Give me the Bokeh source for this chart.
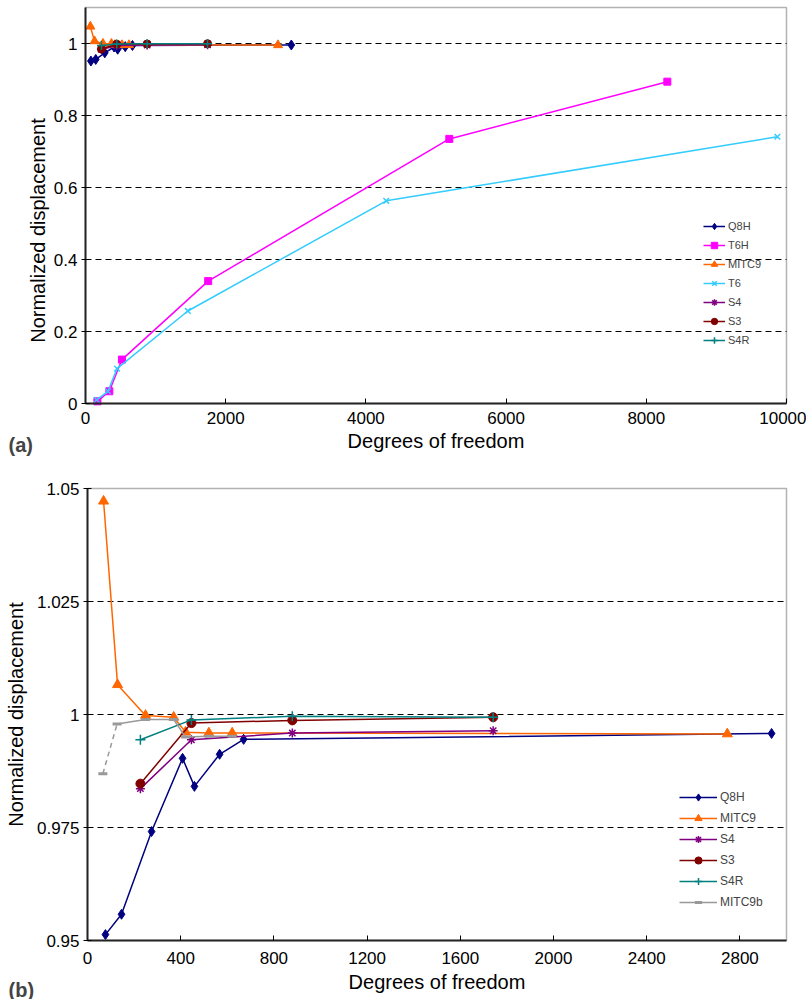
import math
from bokeh.plotting import figure
from bokeh.layouts import column
from bokeh.models import (FixedTicker, CustomJSTickFormatter, Legend, LegendItem,
                          Label, Range1d, BoxAnnotation)
from bokeh.embed import file_html
from bokeh.resources import INLINE

FONT = "Liberation Sans"

# ---------------- data ----------------
q8h_dof = [77, 146, 275, 408, 459, 567, 670, 2936]
q8h_disp = [0.9513, 0.9558, 0.9741, 0.9903, 0.9841, 0.9912, 0.9945, 0.9958]

mitc9_dof = [69, 129, 249, 370, 421, 521, 621, 2746]
mitc9_disp = [1.0472, 1.0066, 0.9998, 0.9994, 0.9961, 0.9959, 0.9959, 0.9957]

s_dof = [227, 446, 879, 1741]
s4_disp = [0.9836, 0.9944, 0.9959, 0.9964]
s3_disp = [0.9847, 0.9981, 0.9987, 0.9994]
s4r_disp = [0.9944, 0.9988, 0.9996, 0.9994]

mitc9b_dof = [66, 127, 249, 370, 421, 521, 621]
mitc9b_disp = [0.9869, 0.9979, 0.9989, 0.9989, 0.9950, 0.9952, 0.9952]

t6h_dof = [170, 340, 520, 1750, 5190, 8300]
t6h_disp = [0.006, 0.034, 0.122, 0.340, 0.735, 0.894]

t6_dof = [160, 320, 450, 1460, 4290, 9870]
t6_disp = [0.010, 0.034, 0.097, 0.257, 0.563, 0.741]

top_xlim = [0, 10000]
top_ylim = [0, 1.1]
top_x_ticks = [0, 2000, 4000, 6000, 8000, 10000]
top_y_ticks = [0, 0.2, 0.4, 0.6, 0.8, 1.0]
top_grid = [0.2, 0.4, 0.6, 0.8, 1.0]

bot_xlim = [0, 3000]
bot_ylim = [0.95, 1.05]
bot_x_ticks = [0, 400, 800, 1200, 1600, 2000, 2400, 2800]
bot_y_ticks = [0.95, 0.975, 1.0, 1.025, 1.05]
bot_grid = [0.975, 1.0, 1.025]

C = {"Q8H": "#000080", "T6H": "#FF00FF", "MITC9": "#FF6600", "T6": "#33CCFF",
     "S4": "#800080", "S3": "#800000", "S4R": "#008080", "MITC9b": "#999999"}

# ---------------- layout geometry (pixels) ----------------
W = 806
H1, H2 = 475, 524
BOX1 = dict(l=85, r=786, t=7, b=403)
BOX2 = dict(l=87, r=786, t=13, b=465)


def make_ranges(box, H, xlim, ylim):
    kx = (xlim[1] - xlim[0]) / (box["r"] - box["l"])
    ky = (ylim[1] - ylim[0]) / (box["b"] - box["t"])
    xr = Range1d(xlim[0] - box["l"] * kx, xlim[1] + (W - box["r"]) * kx)
    yr = Range1d(ylim[0] - (H - box["b"]) * ky, ylim[1] + box["t"] * ky)
    return xr, yr


FMT = CustomJSTickFormatter(code="return String(Math.round(tick*1000)/1000)")


def make_fig(H, box, xlim, ylim, xt, yt, grid):
    xr, yr = make_ranges(box, H, xlim, ylim)
    p = figure(width=W, height=H, x_range=xr, y_range=yr, output_backend="svg",
               toolbar_location=None, min_border=0, min_border_left=0,
               min_border_right=0, min_border_top=0, min_border_bottom=0,
               x_axis_label="Degrees of freedom",
               y_axis_label="Normalized displacement")
    p.outline_line_color = None
    p.xgrid.visible = False
    p.ygrid.visible = False
    p.segment(x0=xlim[0], x1=xlim[1], y0=grid, y1=grid, line_color="black",
              line_dash="6 4", line_width=1)
    p.add_layout(BoxAnnotation(left=xlim[0], right=xlim[1], bottom=ylim[0],
                               top=ylim[1], fill_alpha=0, line_color="black",
                               line_width=1.5))
    xa, ya = p.xaxis[0], p.yaxis[0]
    xa.fixed_location = ylim[0]
    xa.bounds = (xlim[0], xlim[1])
    ya.fixed_location = xlim[0]
    ya.bounds = (ylim[0], ylim[1])
    for ax, t in ((xa, xt), (ya, yt)):
        ax.ticker = FixedTicker(ticks=t)
        ax.formatter = FMT
        ax.axis_line_color = "#333333"
        ax.axis_line_width = 2
        ax.major_tick_line_color = "black"
        ax.minor_tick_line_color = None
        ax.major_label_text_font = FONT
        ax.major_label_text_font_size = "17px"
        ax.major_label_text_color = "black"
        ax.axis_label_text_font = FONT
        ax.axis_label_text_font_size = "20px"
        ax.axis_label_text_font_style = "normal"
        ax.axis_label_text_color = "black"
    xa.major_tick_in = 5
    xa.major_tick_out = 0
    ya.major_tick_in = 4
    ya.major_tick_out = 4
    ya.major_label_standoff = 4
    ya.axis_label_standoff = 7
    return p


def series(p, x, y, name, marker, size, lw=1.5, mlw=1.0):
    c = C[name]
    r1 = p.line(x, y, line_color=c, line_width=lw)
    r2 = p.scatter(x, y, marker=marker, size=size, fill_color=c, line_color=c,
                   line_width=mlw)
    return LegendItem(label=name, renderers=[r1, r2])


# ---------------- (a) ----------------
p1 = make_fig(H1, BOX1, top_xlim, top_ylim, top_x_ticks, top_y_ticks, top_grid)
p1.xaxis.major_label_standoff = 8
p1.xaxis.axis_label_standoff = 3
p1.yaxis.axis_label = None
p1.add_layout(Label(x=37, y=H1 - 230, x_units="screen", y_units="screen",
                    text="Normalized displacement", angle=math.pi / 2,
                    text_align="center", text_baseline="middle",
                    text_font=FONT, text_font_size="20px", text_color="black"))

items1 = [
    series(p1, q8h_dof, q8h_disp, "Q8H", "diamond", 10),
    series(p1, t6h_dof, t6h_disp, "T6H", "square", 7),
    series(p1, mitc9_dof, mitc9_disp, "MITC9", "triangle", 9),
    series(p1, t6_dof, t6_disp, "T6", "x", 8, mlw=1.5),
    series(p1, s_dof, s4_disp, "S4", "asterisk", 9, mlw=1.5),
    series(p1, s_dof, s3_disp, "S3", "circle", 8),
    series(p1, s_dof, s4r_disp, "S4R", "cross", 9, mlw=1.5),
]
p1.add_layout(Legend(items=items1, location=(703, 127), padding=0, margin=0,
                     spacing=3, glyph_width=22, glyph_height=16, label_height=16,
                     label_standoff=3, label_text_font=FONT,
                     label_text_font_size="11px", border_line_alpha=0,
                     background_fill_alpha=0))
p1.add_layout(Label(x=8, y=31, x_units="screen", y_units="screen", text="(a)",
                    text_font=FONT, text_font_size="20px", text_font_style="bold",
                    text_baseline="alphabetic"))

# ---------------- (b) ----------------
p2 = make_fig(H2, BOX2, bot_xlim, bot_ylim, bot_x_ticks, bot_y_ticks, bot_grid)
p2.xaxis.major_label_standoff = 11
p2.xaxis.axis_label_standoff = 4

items2 = [
    series(p2, q8h_dof, q8h_disp, "Q8H", "diamond", 10),
    series(p2, mitc9_dof, mitc9_disp, "MITC9", "triangle", 10),
    series(p2, s_dof, s4_disp, "S4", "asterisk", 9, mlw=1.5),
    series(p2, s_dof, s3_disp, "S3", "circle", 9),
    series(p2, s_dof, s4r_disp, "S4R", "cross", 10, mlw=1.5),
]
gc = C["MITC9b"]
p2.line(mitc9b_dof[:2], mitc9b_disp[:2], line_color=gc, line_width=1.5,
        line_dash="5 4")
rb1 = p2.line(mitc9b_dof[1:], mitc9b_disp[1:], line_color=gc, line_width=1.5)
rb2 = p2.scatter(mitc9b_dof, mitc9b_disp, marker="dash", size=9, line_color=gc,
                 line_width=3)
items2.append(LegendItem(label="MITC9b", renderers=[rb1, rb2]))

p2.add_layout(Legend(items=items2, location=(679, 88), padding=0, margin=0,
                     spacing=3, glyph_width=38, glyph_height=18, label_height=18,
                     label_standoff=3, label_text_font=FONT,
                     label_text_font_size="12px", border_line_alpha=0,
                     background_fill_alpha=0))
p2.add_layout(Label(x=8, y=10, x_units="screen", y_units="screen", text="(b)",
                    text_font=FONT, text_font_size="20px", text_font_style="bold",
                    text_baseline="alphabetic"))

layout = column(p1, p2, spacing=0)
open("out.html", "w").write(file_html(layout, INLINE))
